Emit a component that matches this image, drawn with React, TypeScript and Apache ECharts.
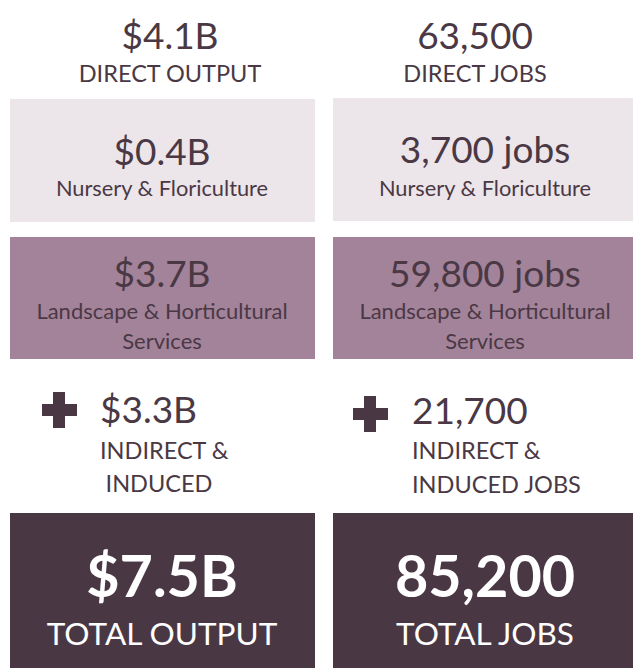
import React, { useEffect, useRef } from "react";
import * as echarts from "echarts";

// ---- data ----
const directValues = ["$4.1B", "63,500"];
const directLabels = ["DIRECT OUTPUT", "DIRECT JOBS"];
const nurseryValues = ["$0.4B", "3,700 jobs"];
const nurseryLabel = "Nursery & Floriculture";
const landscapeValues = ["$3.7B", "59,800 jobs"];
const landscapeLabelLines = ["Landscape & Horticultural", "Services"];
const indirectValues = ["$3.3B", "21,700"];
const indirectLabelLines = [
  ["INDIRECT &", "INDUCED"],
  ["INDIRECT &", "INDUCED JOBS"],
];
const totalValues = ["$7.5B", "85,200"];
const totalLabels = ["TOTAL OUTPUT", "TOTAL JOBS"];

// ---- styles ----
const FONT = "Lato, 'Open Sans', sans-serif";
const TEXT = "#4a3844";
const LIGHT = "#ece5ea";
const MID = "#a3839a";
const DARK = "#4a3744";

const cols = [
  { x: 10, w: 305, cx: 162, topCx: 170, plusX: 42, plusY: 392, textX: 100, ind2Cx: 159 },
  { x: 333, w: 300, cx: 485, topCx: 475, plusX: 353, plusY: 396, textX: 412, ind2Cx: -1 },
];

function txt(text: string, x: number, y: number, size: number, opts: any = {}) {
  return {
    type: "text",
    x,
    y,
    style: {
      text,
      fill: opts.fill || TEXT,
      fontSize: size,
      fontFamily: FONT,
      fontWeight: opts.bold ? "bold" : "normal",
      textAlign: opts.align || "center",
      textVerticalAlign: "middle",
    },
  };
}

export default function App() {
  const ref = useRef<HTMLDivElement>(null);
  useEffect(() => {
    if (!ref.current) return;
    const chart = echarts.init(ref.current, undefined, { renderer: "svg" });
    const els: any[] = [];
    cols.forEach((c, i) => {
      // direct
      els.push(txt(directValues[i], c.topCx, 34, 37));
      els.push(txt(directLabels[i], c.topCx, 73, 23.5));
      // nursery box
      const ly = i === 0 ? 99 : 98;
      els.push({ type: "rect", shape: { x: c.x, y: ly, width: c.w, height: 123 }, style: { fill: LIGHT } });
      els.push(txt(nurseryValues[i], c.cx, i === 0 ? 150 : 148, 37));
      els.push(txt(nurseryLabel, c.cx, 187, 21.8));
      // landscape box
      els.push({ type: "rect", shape: { x: c.x, y: 237, width: c.w, height: 122 }, style: { fill: MID } });
      els.push(txt(landscapeValues[i], c.cx, 272, 37));
      els.push(txt(landscapeLabelLines[0], c.cx, 310, 22));
      els.push(txt(landscapeLabelLines[1], c.cx, 340, 22));
      // plus
      els.push({ type: "rect", shape: { x: c.plusX + 11, y: c.plusY, width: 12, height: 36 }, style: { fill: DARK } });
      els.push({ type: "rect", shape: { x: c.plusX, y: c.plusY + 12, width: 35, height: 12 }, style: { fill: DARK } });
      els.push(txt(indirectValues[i], c.textX, i === 0 ? 408 : 409, 37, { align: "left" }));
      els.push(txt(indirectLabelLines[i][0], c.textX, 450, 23.5, { align: "left" }));
      if (c.ind2Cx > 0) els.push(txt(indirectLabelLines[i][1], c.ind2Cx, 483, 23.5));
      else els.push(txt(indirectLabelLines[i][1], c.textX, 484, 23.5, { align: "left" }));
      // total box
      els.push({ type: "rect", shape: { x: c.x, y: 513, width: c.w, height: 155 }, style: { fill: DARK } });
      els.push(txt(totalValues[i], c.cx, 574, 57.5, { bold: true, fill: "#ffffff" }));
      els.push(txt(totalLabels[i], c.cx, 633, 31.5, { fill: "#ffffff" }));
    });
    chart.setOption({ animation: false, graphic: { elements: els } });
    return () => chart.dispose();
  }, []);
  return (
    <div
      ref={ref}
      style={{ position: "fixed", left: 0, top: 0, width: 633, height: 668, background: "#ffffff" }}
    />
  );
}
